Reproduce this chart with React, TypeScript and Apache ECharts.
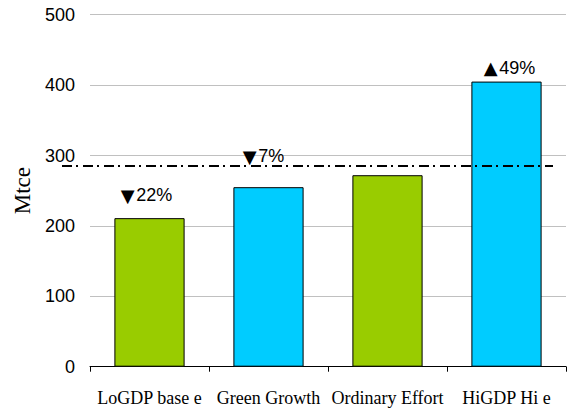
import React, { useEffect, useRef } from "react";
import * as echarts from "echarts";

const categories = ["LoGDP base e", "Green Growth", "Ordinary Effort", "HiGDP Hi e"];
const values = [211, 255, 272, 405];
const arrows = ["▼", "▼", "", "▲"];
const changes = ["22%", "7%", "", "49%"];
const referenceLevel = 285;
const yTicks = { min: 0, max: 500, interval: 100 };

const barColors = ["#99cc00", "#00ccff", "#99cc00", "#00ccff"];
const labelDistance = [14, 22, 0, 5];
const labelOffsetX = [-3, -5, 0, 3];

export default function App() {
  const ref = useRef<HTMLDivElement>(null);
  useEffect(() => {
    if (!ref.current) return;
    const chart = echarts.init(ref.current, null, { renderer: "svg" });
    const data = values.map((v, i) => ({
      value: v,
      itemStyle: { color: barColors[i], borderColor: "#000", borderWidth: 1 },
      label: {
        show: changes[i] !== "",
        formatter: "{a|" + arrows[i] + "}" + changes[i],
        position: "top",
        distance: labelDistance[i],
        offset: [labelOffsetX[i], 0],
        fontFamily: "Liberation Sans, Arial, sans-serif",
        fontSize: 18,
        color: "#000",
        rich: {
          a: { fontFamily: "DejaVu Sans", fontSize: 18, color: "#000", padding: [0, 1.5, 0, 0] },
        },
      },
    }));
    chart.setOption({
      animation: false,
      backgroundColor: "#fff",
      grid: { left: 90, right: 1, top: 14.7, bottom: 43.3, containLabel: false },
      xAxis: {
        type: "category",
        data: categories,
        axisLine: { show: true, lineStyle: { color: "#000", width: 1 } },
        axisTick: { show: true, length: 5, alignWithLabel: false, lineStyle: { color: "#000" } },
        axisLabel: {
          interval: 0,
          margin: 22,
          fontFamily: "Liberation Serif, Times New Roman, serif",
          fontSize: 18,
          color: "#000",
        },
        splitLine: { show: false },
      },
      yAxis: {
        type: "value",
        min: yTicks.min,
        max: yTicks.max,
        interval: yTicks.interval,
        name: "Mtce",
        nameLocation: "middle",
        nameGap: 54,
        nameRotate: 90,
        nameTextStyle: {
          fontFamily: "Liberation Serif, Times New Roman, serif",
          fontSize: 23,
          color: "#000",
        },
        axisLine: { show: false },
        axisTick: { show: false },
        axisLabel: {
          margin: 15,
          fontFamily: "Liberation Sans, Arial, sans-serif",
          fontSize: 18,
          color: "#000",
        },
        splitLine: { show: true, lineStyle: { color: "#c0c0c0", width: 1 } },
      },
      series: [
        {
          type: "bar",
          data,
          barWidth: "59%",
          markLine: {
            silent: true,
            symbol: "none",
            label: { show: false },
            lineStyle: { color: "#000", width: 2, type: [10, 4, 2, 5] },
            data: [[{ x: 62, yAxis: referenceLevel }, { x: 553, yAxis: referenceLevel }]],
          },
        },
      ],
    });
    return () => chart.dispose();
  }, []);
  return <div ref={ref} style={{ width: 567, height: 410, position: "absolute", left: 0, top: 0 }} />;
}
